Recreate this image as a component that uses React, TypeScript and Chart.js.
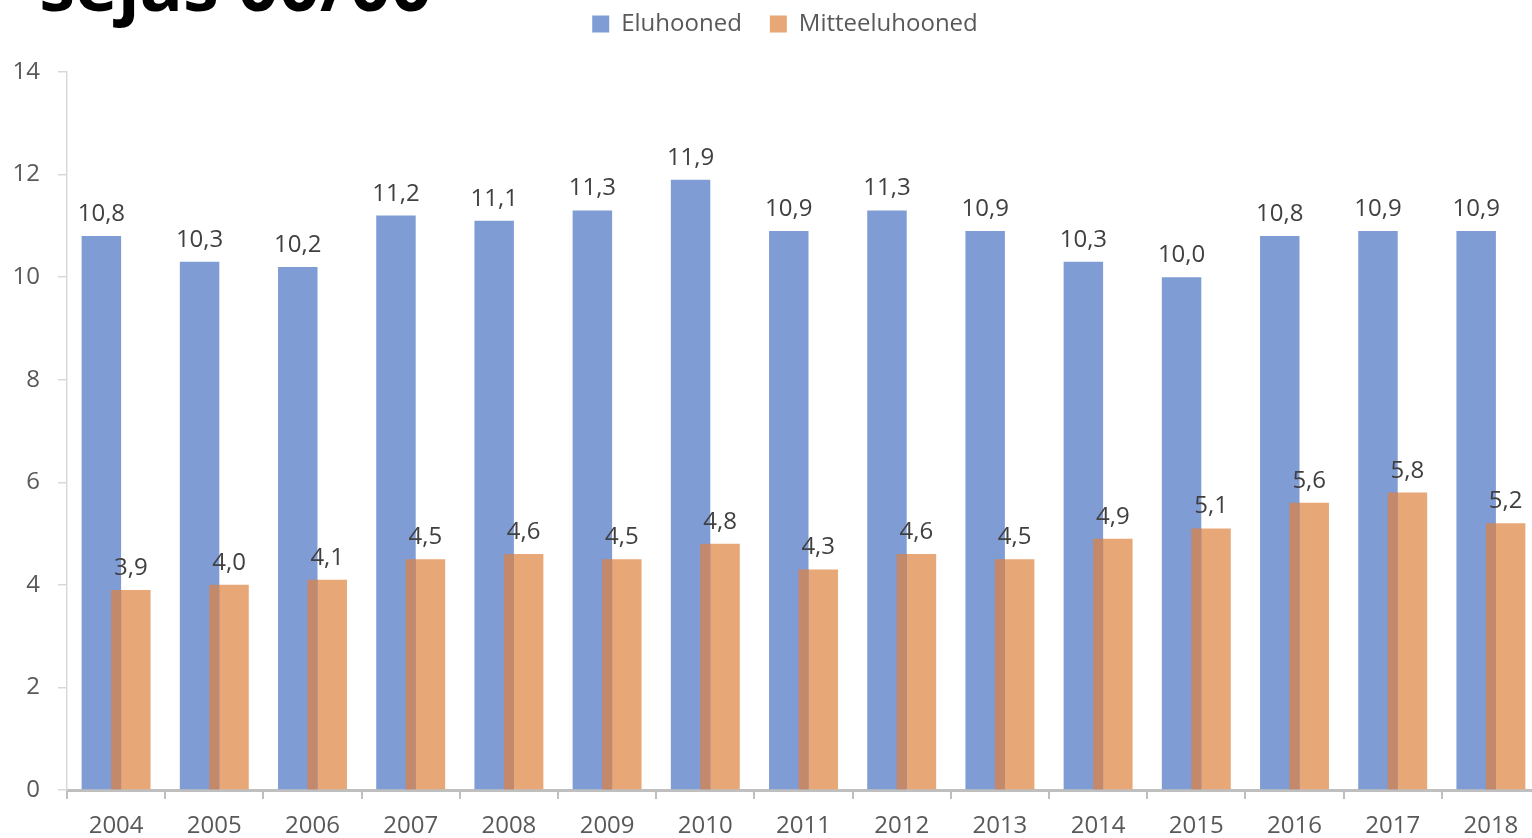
import React, { useEffect, useRef } from "react";
import { Chart, registerables } from "chart.js";

Chart.register(...registerables);

const years = ["2004", "2005", "2006", "2007", "2008", "2009", "2010", "2011", "2012", "2013", "2014", "2015", "2016", "2017", "2018"];
const eluhooned = [10.8, 10.3, 10.2, 11.2, 11.1, 11.3, 11.9, 10.9, 11.3, 10.9, 10.3, 10.0, 10.8, 10.9, 10.9];
const mitteeluhooned = [3.9, 4.0, 4.1, 4.5, 4.6, 4.5, 4.8, 4.3, 4.6, 4.5, 4.9, 5.1, 5.6, 5.8, 5.2];
const seriesNames = ["Eluhooned", "Mitteeluhooned"];
const yMin = 0;
const yMax = 14;
const yStep = 2;
const titleText = "sejas 00/00";

const BLUE = "#7f9cd4";
const ORANGE = "#e8a776";
const OVERLAP = "#c4886a";
const FONT = "'Open Sans', sans-serif";

const fmt = (v: number) => v.toFixed(1).replace(".", ",");

const overlapAndLabels = {
  id: "overlapAndLabels",
  afterDatasetsDraw(chart: any) {
    const ctx = chart.ctx;
    const m0 = chart.getDatasetMeta(0);
    const m1 = chart.getDatasetMeta(1);
    ctx.save();
    for (let i = 0; i < m0.data.length; i++) {
      const b = m0.data[i].getProps(["x", "y", "base", "width"], true);
      const o = m1.data[i].getProps(["x", "y", "base", "width"], true);
      const left = o.x - o.width / 2;
      const right = b.x + b.width / 2;
      const top = Math.max(o.y, b.y);
      if (right > left) {
        ctx.fillStyle = OVERLAP;
        ctx.fillRect(left, top, right - left, o.base - top);
      }
    }
    ctx.font = `24px ${FONT}`;
    ctx.fillStyle = "#404040";
    ctx.textAlign = "center";
    ctx.textBaseline = "alphabetic";
    [m0, m1].forEach((meta: any, di: number) => {
      const data = chart.data.datasets[di].data as number[];
      meta.data.forEach((el: any, i: number) => {
        const p = el.getProps(["x", "y"], true);
        ctx.fillText(fmt(data[i]), p.x, p.y - 15);
      });
    });
    ctx.restore();
  },
};

const legendShift = {
  id: "legendShift",
  afterLayout(chart: any) {
    const lg = chart.legend;
    if (!lg) return;
    const dx = 15;
    const dy = -26;
    lg.left += dx;
    lg.right += dx;
    lg.top += dy;
    lg.bottom += dy;
  },
};

export default function App() {
  const ref = useRef<HTMLCanvasElement | null>(null);

  useEffect(() => {
    if (!ref.current) return;
    const chart = new Chart(ref.current, {
      type: "bar",
      data: {
        labels: years,
        datasets: [
          {
            label: seriesNames[0],
            data: eluhooned,
            backgroundColor: BLUE,
            borderWidth: 0,
            categoryPercentage: 0.6,
            barPercentage: 1.34,
          },
          {
            label: seriesNames[1],
            data: mitteeluhooned,
            backgroundColor: ORANGE,
            borderWidth: 0,
            categoryPercentage: 0.6,
            barPercentage: 1.34,
          },
        ],
      },
      options: {
        responsive: false,
        animation: false,
        devicePixelRatio: 1,
        layout: { padding: { top: 10, right: 20, left: 0, bottom: 0 } },
        plugins: {
          legend: {
            position: "top",
            align: "center",
            labels: {
              boxWidth: 17,
              boxHeight: 17,
              padding: 28,
              color: "#595959",
              font: { family: FONT, size: 24 },
            },
          },
          tooltip: { enabled: false },
          title: { display: false },
        },
        scales: {
          x: {
            offset: true,
            ticks: {
              color: "#595959",
              font: { family: FONT, size: 24 },
              padding: 13,
              maxRotation: 0,
              autoSkip: false,
            },
            grid: {
              offset: true,
              drawOnChartArea: false,
              drawTicks: true,
              tickLength: 9,
              color: "#bfbfbf",
              lineWidth: 2,
            },
            border: { color: "#bfbfbf", width: 3 },
            afterFit: (s: any) => {
              s.height = 70;
            },
          },
          y: {
            min: yMin,
            max: yMax,
            ticks: {
              stepSize: yStep,
              color: "#595959",
              font: { family: FONT, size: 24 },
              padding: 18,
            },
            grid: {
              drawOnChartArea: false,
              drawTicks: true,
              tickLength: 9,
              color: "#d9d9d9",
              lineWidth: 1.5,
            },
            border: { color: "#d9d9d9", width: 1.5 },
            afterFit: (s: any) => {
              s.width = 67;
            },
          },
        },
      },
      plugins: [overlapAndLabels, legendShift],
    });
    return () => chart.destroy();
  }, []);

  return (
    <div
      style={{
        position: "fixed",
        left: 0,
        top: 0,
        width: 1532,
        height: 838,
        overflow: "hidden",
        background: "#ffffff",
      }}
    >
      <canvas
        ref={ref}
        width={1560}
        height={860}
        style={{ position: "absolute", left: 0, top: 0, display: "block" }}
      />
      <div
        style={{
          position: "absolute",
          right: 1532 - 432,
          top: -53,
          fontFamily: FONT,
          fontWeight: 700,
          fontSize: 72,
          lineHeight: 1,
          color: "#000000",
          whiteSpace: "nowrap",
          textAlign: "right",
        }}
      >
        {titleText}
      </div>
    </div>
  );
}
